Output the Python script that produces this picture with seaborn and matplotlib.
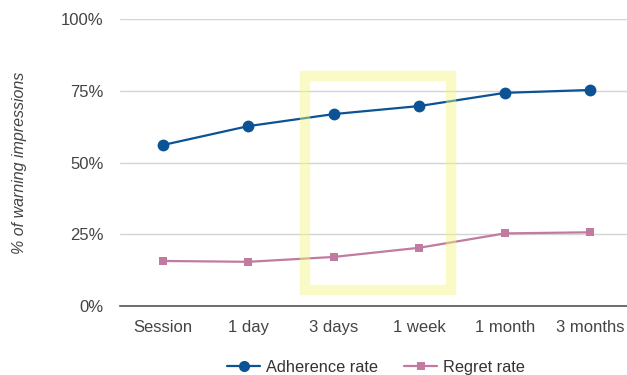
import matplotlib
matplotlib.use("Agg")
import matplotlib.pyplot as plt
import matplotlib.patches as patches
import pandas as pd
import seaborn as sns

# Data
periods = ["Session", "1 day", "3 days", "1 week", "1 month", "3 months"]
adherence = [56.1, 62.7, 66.9, 69.7, 74.3, 75.3]
regret = [15.7, 15.4, 17.1, 20.3, 25.3, 25.7]
y_ticks = [0, 25, 50, 75, 100]

df = pd.DataFrame({
    "period": periods * 2,
    "value": adherence + regret,
    "series": ["Adherence rate"] * len(periods) + ["Regret rate"] * len(periods),
})

sns.set_style("white")
plt.rcParams["font.family"] = ["Liberation Sans", "DejaVu Sans"]

fig = plt.figure(figsize=(6.27, 3.75), dpi=100)
ax = fig.add_axes([0.1914, 0.184, 0.8086, 0.765])

blue = "#0b5394"
pink = "#c27ba0"

sns.lineplot(data=df, x="period", y="value", hue="series", style="series",
             palette={"Adherence rate": blue, "Regret rate": pink},
             markers={"Adherence rate": "o", "Regret rate": "s"},
             dashes=False, sort=False, linewidth=1.6, markeredgewidth=0,
             ax=ax, legend=False)
for line, ms in zip(ax.lines, [8.5, 6]):
    line.set_markersize(ms)

ax.set_ylim(0, 100)
ax.set_xlim(-0.5, 5.43)
ax.set_yticks(y_ticks)
ax.set_yticklabels([f"{t}%" for t in y_ticks])
ax.yaxis.grid(True, color="#d4d4d4", linewidth=1)
ax.set_axisbelow(True)
for s in ["top", "right", "left"]:
    ax.spines[s].set_visible(False)
ax.spines["bottom"].set_color("#555555")
ax.spines["bottom"].set_linewidth(1.2)
ax.tick_params(axis="both", length=0, labelsize=12, labelcolor="#444444")
ax.tick_params(axis="y", pad=12)
ax.tick_params(axis="x", pad=10)
ax.set_xlabel("")
ax.set_ylabel("% of warning impressions", fontsize=11.5, style="italic",
              color="#444444", labelpad=24)

# yellow highlight box
rect = patches.Rectangle((1.66, 3.8 + 1.75), 3.37 - 1.66, 81.9 - 3.8 - 3.5,
                         fill=False, edgecolor="#f2f680", alpha=0.45,
                         linewidth=7.5, zorder=5)
ax.add_patch(rect)

# legend
handles = [
    plt.Line2D([], [], color=blue, marker="o", markersize=8, linewidth=1.6, markeredgewidth=0),
    plt.Line2D([], [], color=pink, marker="s", markersize=6, linewidth=1.6, markeredgewidth=0),
]
ax.legend(handles, ["Adherence rate", "Regret rate"], loc="center",
          bbox_to_anchor=(0.505, -0.213), ncol=2, frameon=False, fontsize=11.8,
          handlelength=2.0, columnspacing=1.6, handletextpad=0.35,
          labelcolor="#333333", borderpad=0)

fig.savefig("out.png", dpi=100)
